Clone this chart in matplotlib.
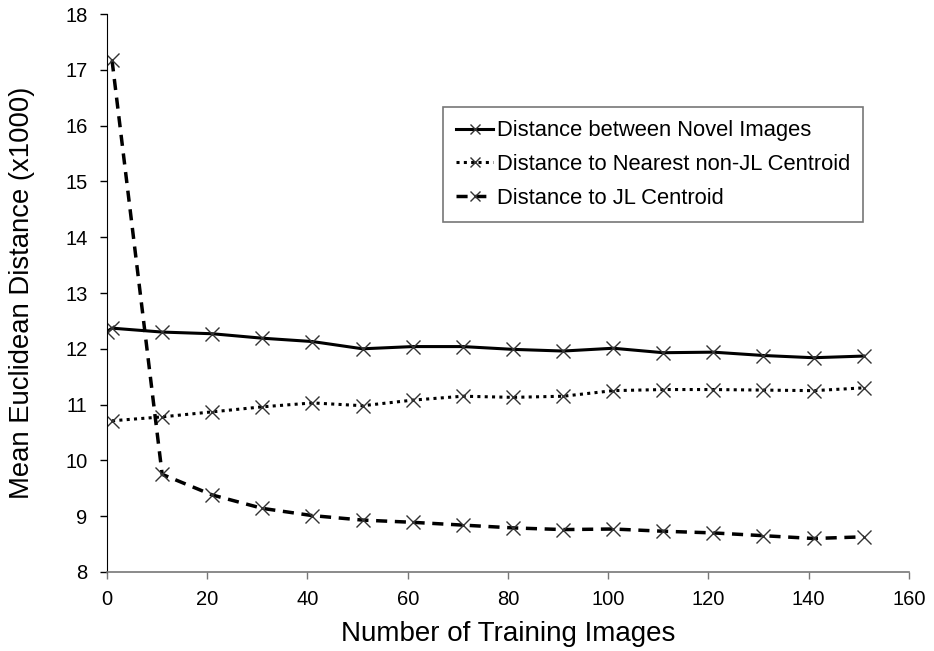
import matplotlib
matplotlib.use("Agg")
import matplotlib.pyplot as plt

plt.rcParams["font.family"] = ["Liberation Sans", "DejaVu Sans"]

# data
x_novel = [0, 1, 11, 21, 31, 41, 51, 61, 71, 81, 91, 101, 111, 121, 131, 141, 151]
novel = [12.31, 12.37, 12.30, 12.27, 12.19, 12.13, 12.00, 12.04, 12.04, 11.99, 11.96, 12.01,
         11.93, 11.94, 11.88, 11.84, 11.87]

x_other = [1, 11, 21, 31, 41, 51, 61, 71, 81, 91, 101, 111, 121, 131, 141, 151]
nearest = [10.71, 10.78, 10.87, 10.96, 11.03, 10.98, 11.08, 11.15, 11.13, 11.15, 11.25,
           11.27, 11.27, 11.26, 11.25, 11.30]
jl = [17.17, 9.75, 9.38, 9.14, 9.01, 8.93, 8.89, 8.84, 8.79, 8.76, 8.77, 8.73, 8.70,
      8.65, 8.60, 8.63]

labels = ["Distance between Novel Images",
          "Distance to Nearest non-JL Centroid",
          "Distance to JL Centroid"]

fig = plt.figure(figsize=(9.34, 6.51), dpi=100)
ax = fig.add_axes([0.1146, 0.1214, 0.8584, 0.857])

mk = dict(marker="x", markersize=10, markeredgewidth=1.0, markeredgecolor="#333333")
ax.plot(x_novel, novel, color="black", linewidth=2.2, linestyle="-", label=labels[0], **mk)
ax.plot(x_other, nearest, color="black", linewidth=2.2, linestyle=(0, (1, 1.4)),
        label=labels[1], **mk)
ax.plot(x_other, jl, color="black", linewidth=2.5, linestyle=(0, (3.2, 2.2)),
        label=labels[2], **mk)

ax.set_xlim(0, 160)
ax.set_ylim(8, 18)
ax.set_xticks(range(0, 161, 20))
ax.set_yticks(range(8, 19))
ax.tick_params(labelsize=14.5, direction="out", length=5, width=1)
ax.tick_params(axis="x", pad=8, color="#777777")
ax.tick_params(axis="y", pad=9)
ax.spines["top"].set_visible(False)
ax.spines["right"].set_visible(False)
ax.spines["left"].set_color("black")
ax.spines["bottom"].set_color("#777777")
ax.spines["bottom"].set_linewidth(1.2)

ax.set_xlabel("Number of Training Images", fontsize=20)
ax.set_ylabel("Mean Euclidean Distance (x1000)", fontsize=19.8)
ax.xaxis.set_label_coords(0.5, -0.088)
ax.yaxis.set_label_coords(-0.09, 0.5)

leg = ax.legend(loc="upper left", bbox_to_anchor=(0.419, 0.833), fontsize=15.8,
                frameon=True, fancybox=False, shadow=False, handlelength=1.7,
                handletextpad=0.15, borderpad=0.6, labelspacing=0.58, markerscale=0.7,
                borderaxespad=0)
leg.get_frame().set_edgecolor("#555555")
leg.get_frame().set_linewidth(1.2)

fig.savefig("out.png", dpi=100)
